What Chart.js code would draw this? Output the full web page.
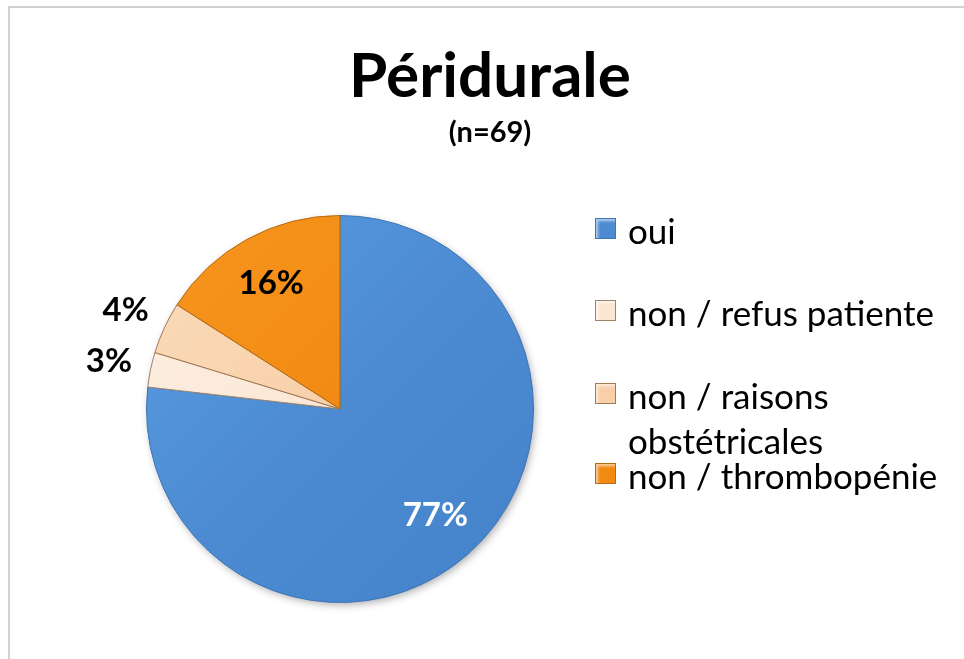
<!DOCTYPE html>
<html>
<head>
<meta charset="utf-8">
<script src="https://cdn.jsdelivr.net/npm/chart.js@4.4.1/dist/chart.umd.min.js"></script>
<style>
    html, body { margin: 0; padding: 0; background: #ffffff; }
    #wrap { position: relative; width: 964px; height: 659px; overflow: hidden; font-family: Lato, "Open Sans", sans-serif; color: #000; }
    #frame { position: absolute; left: 8px; top: 6px; right: -10px; bottom: -10px; border-left: 2px solid #d2d2d2; border-top: 2px solid #d2d2d2; }
    #chart { position: absolute; left: 0; top: 0; }
    .title { position: absolute; left: 0; width: 980px; text-align: center; font-weight: 700; line-height: 1; }
    #title { top: 42px; font-size: 62px; }
    #subtitle { top: 116px; font-size: 29px; }
    .leg-box { position: absolute; left: 595px; width: 19px; height: 19px; border: 1px solid; box-shadow: inset 2px 2px 3px rgba(255,255,255,0.6); }
    .leg-text { position: absolute; left: 628px; font-size: 35px; line-height: 45px; white-space: nowrap; }
</style>
</head>
<body>
<div id="wrap">
    <div id="frame"></div>
    <canvas id="chart" width="964" height="659"></canvas>
    <div class="title" id="title">Péridurale</div>
    <div class="title" id="subtitle">(n=69)</div>
    <div id="legend"></div>
</div>
<script>
const chartTitle = 'Péridurale';
const chartSubtitle = '(n=69)';
const categories = ['oui', 'non / refus patiente', 'non / raisons obstétricales', 'non / thrombopénie'];
const legendLines = [['oui'], ['non / refus patiente'], ['non / raisons', 'obstétricales'], ['non / thrombopénie']];
const counts = [53, 2, 3, 11];
const percentLabels = ['77%', '3%', '4%', '16%'];
const sliceColors = ['#4c8bd2', '#fbe6d4', '#f8d0a8', '#f28a12'];
const sliceLight = ['#5a9ce2', '#fdf1e6', '#fbdcbc', '#f7961f'];
const sliceDark = ['#4481c8', '#f6dcc4', '#f3c597', '#e8800b'];
const sliceBorders = ['#3d74b5', '#a08468', '#a07a55', '#b56a10'];
const labelColors = ['#ffffff', '#000000', '#000000', '#000000'];

// legend rows: baseline of first line for each item
const legendBaselines = [244, 326, 409, 489];

const legendEl = document.getElementById('legend');
categories.forEach((cat, i) => {
    const box = document.createElement('div');
    box.className = 'leg-box';
    box.style.top = (legendBaselines[i] - 26) + 'px';
    box.style.background = sliceColors[i];
    box.style.borderColor = sliceBorders[i];
    legendEl.appendChild(box);
    const txt = document.createElement('div');
    txt.className = 'leg-text';
    txt.style.top = (legendBaselines[i] - 36) + 'px';
    txt.innerHTML = legendLines[i].join('<br>');
    legendEl.appendChild(txt);
});

function sliceFill(context) {
    const chart = context.chart;
    const area = chart.chartArea;
    const i = context.dataIndex;
    if (!area) return sliceColors[i];
    const g = chart.ctx.createLinearGradient(area.left, area.top, area.right, area.bottom);
    g.addColorStop(0, sliceLight[i]);
    g.addColorStop(0.5, sliceColors[i]);
    g.addColorStop(1, sliceDark[i]);
    return g;
}

const pieShadow = {
    id: 'pieShadow',
    beforeDatasetsDraw(chart) {
        const arc = chart.getDatasetMeta(0).data[0];
        if (!arc) return;
        const ctx = chart.ctx;
        ctx.save();
        ctx.shadowColor = 'rgba(0,0,0,0.35)';
        ctx.shadowBlur = 9;
        ctx.shadowOffsetX = 2;
        ctx.shadowOffsetY = 3;
        ctx.beginPath();
        ctx.arc(arc.x, arc.y, arc.outerRadius - 1, 0, Math.PI * 2);
        ctx.fillStyle = sliceColors[0];
        ctx.fill();
        ctx.restore();
    }
};

const percentLabelsPlugin = {
    id: 'percentLabels',
    afterDatasetsDraw(chart) {
        const ctx = chart.ctx;
        const total = counts.reduce((a, b) => a + b, 0);
        chart.getDatasetMeta(0).data.forEach((arc, i) => {
            const mid = (arc.startAngle + arc.endAngle) / 2;
            const share = counts[i] / total;
            const r = share < 0.08 ? arc.outerRadius * 1.22 : arc.outerRadius * 0.74;
            const x = arc.x + Math.cos(mid) * r;
            const y = arc.y + Math.sin(mid) * r;
            ctx.save();
            ctx.font = 'bold 33px Lato, "Open Sans", sans-serif';
            ctx.fillStyle = labelColors[i];
            ctx.textAlign = 'center';
            ctx.textBaseline = 'middle';
            ctx.fillText(percentLabels[i], x, y);
            ctx.restore();
        });
    }
};

new Chart(document.getElementById('chart'), {
    type: 'pie',
    data: {
        labels: categories,
        datasets: [{
            data: counts,
            backgroundColor: sliceFill,
            borderColor: sliceBorders,
            borderWidth: 1
        }]
    },
    options: {
        responsive: false,
        animation: false,
        layout: { padding: { left: 146, right: 430, top: 215, bottom: 56 } },
        plugins: {
            legend: { display: false },
            title: { display: false, text: chartTitle },
            subtitle: { display: false, text: chartSubtitle },
            tooltip: { enabled: false }
        }
    },
    plugins: [pieShadow, percentLabelsPlugin]
});
</script>
</body>
</html>
